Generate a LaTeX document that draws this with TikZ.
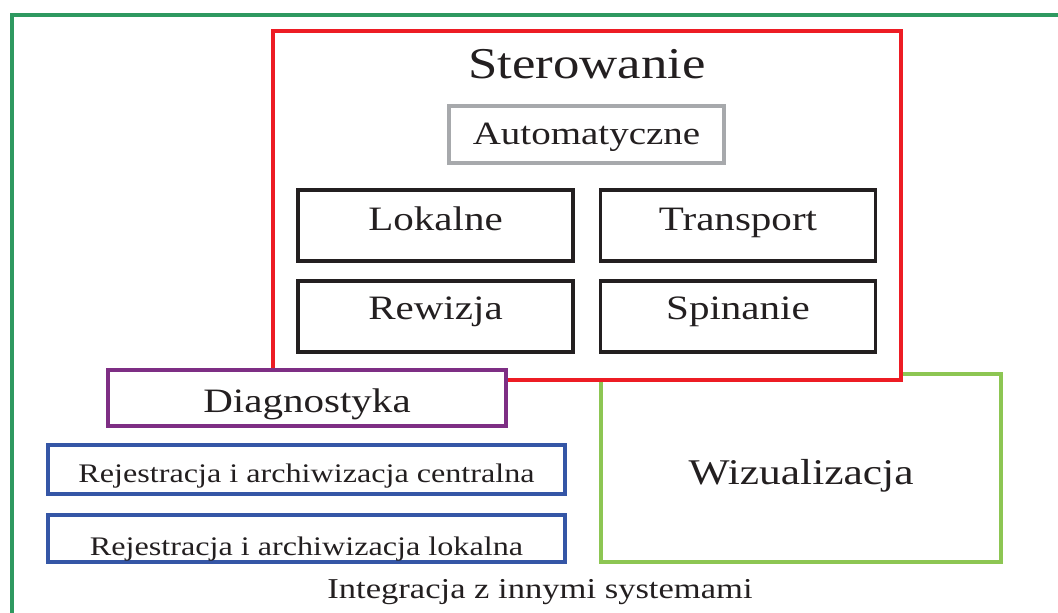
\documentclass[tikz,border=0pt]{standalone}
\usepackage{fontspec}
\setmainfont{Liberation Serif}[FakeStretch=1.2]
\definecolor{framegreen}{RGB}{46,153,96}
\definecolor{sterred}{RGB}{237,28,36}
\definecolor{autogray}{RGB}{167,169,172}
\definecolor{boxblack}{RGB}{35,31,32}
\definecolor{diagpurple}{RGB}{126,46,132}
\definecolor{rejblue}{RGB}{53,86,166}
\definecolor{wizgreen}{RGB}{141,198,83}

\begin{document}
\begin{tikzpicture}[x=1pt,y=-1pt,
		  box/.style={draw,rectangle,inner sep=0pt,line width=3.8pt,text=boxblack,text depth=0pt},
		  small/.style={box,draw=boxblack,minimum width=275pt,minimum height=71pt,
		    font=\fontsize{34.2}{40}\selectfont},
		  rej/.style={box,draw=rejblue,minimum width=517pt,
		    font=\fontsize{26.8}{32}\selectfont}]
		  \useasboundingbox (0,0) rectangle (1058,613);

		  \node[box,draw=wizgreen,minimum width=400pt,minimum height=188pt,text height=32pt,
		    font=\fontsize{36.2}{42}\selectfont] (wiz) at (801,468) {Wizualizacja};
		  \node[box,draw=sterred,fill=white,minimum width=628pt,minimum height=349pt] (ster) at (587,205.5) {};
		  \node[anchor=base,inner sep=0pt,text=boxblack,font=\fontsize{44}{50}\selectfont] (stertitle) at (587,78) {Sterowanie};
		  \node[box,draw=autogray,minimum width=275pt,minimum height=57pt,text height=19pt,
		    font=\fontsize{32.5}{38}\selectfont] (auto) at (586.5,134.5) {Automatyczne};

		  \node[small,text height=9pt] (lok) at (435.5,225.5) {Lokalne};
		  \node[small,text height=9pt] (trans) at (738,225.5) {Transport};
		  \node[small,text height=6pt] (rew) at (435.5,316.5) {Rewizja};
		  \node[small,text height=6pt] (spin) at (738,316.5) {Spinanie};

		  \node[box,draw=diagpurple,fill=white,minimum width=398pt,minimum height=56pt,text height=28pt,
		    font=\fontsize{34.2}{40}\selectfont] (diag) at (307,398) {Diagnostyka};
		  \node[rej,minimum height=49pt,text height=26pt] (rejc) at (306.5,469.5) {Rejestracja i archiwizacja centralna};
		  \node[rej,minimum height=47pt,text height=33pt] (rejl) at (306.5,538.5) {Rejestracja i archiwizacja lokalna};

		  \node[anchor=base,inner sep=0pt,text=boxblack,font=\fontsize{28.8}{34}\selectfont] (integ) at (540,598) {Integracja z innymi systemami};

		  \coordinate (framebl) at (12,620);
		  \coordinate (frametl) at (12,15);
		  \coordinate (frametr) at (1065,15);
		  \draw[framegreen,line width=4pt] (framebl) -- (frametl) -- (frametr);
		\end{tikzpicture}
\end{document}
